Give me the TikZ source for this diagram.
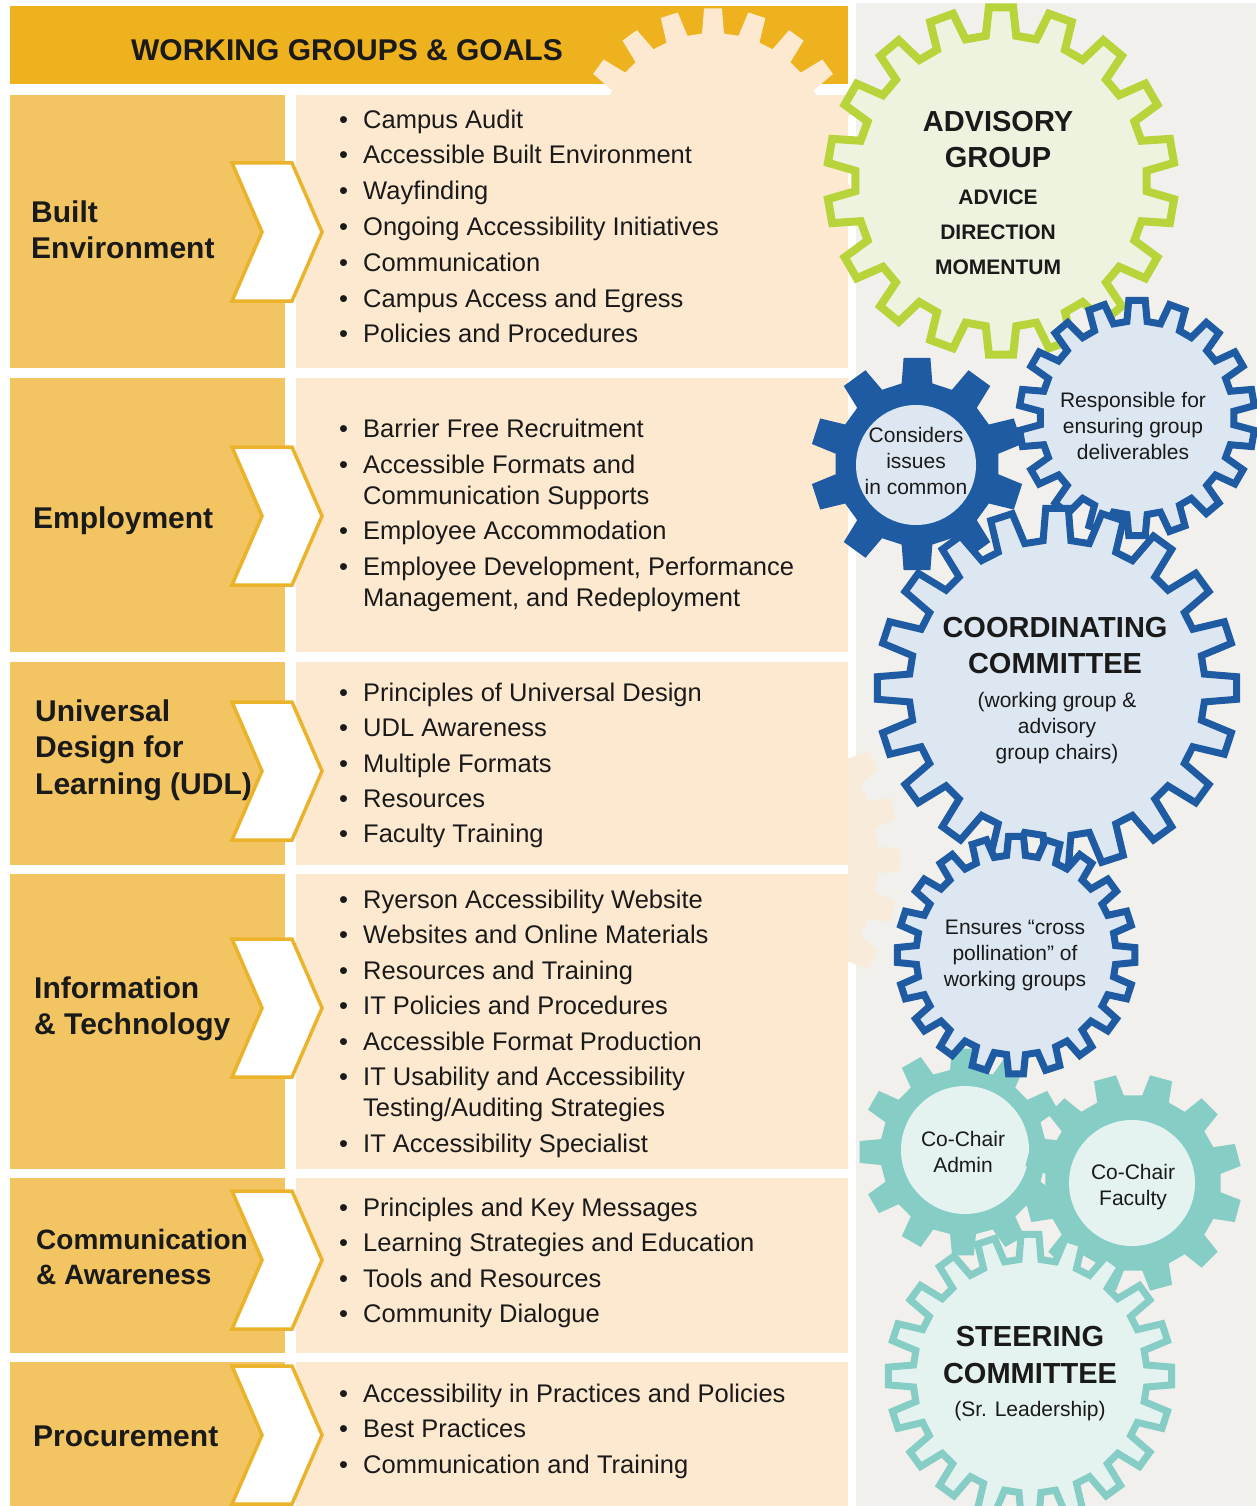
\documentclass[tikz,border=0pt]{standalone}
\usepackage{fontspec}
\setmainfont{Liberation Sans}
\definecolor{ink}{HTML}{1A1A1A}
\definecolor{headgold}{HTML}{EFB21F}
\definecolor{labelgold}{HTML}{F2C462}
\definecolor{peach}{HTML}{FCE9CF}
\definecolor{peachfaint}{HTML}{F8EBD9}
\definecolor{chevgold}{HTML}{EBB32C}
\definecolor{panelgrey}{HTML}{F2F0EC}
\definecolor{lime}{HTML}{B7D43B}
\definecolor{limepale}{HTML}{EEF3DF}
\definecolor{navy}{HTML}{1F5BA2}
\definecolor{navypale}{HTML}{DDE7F1}
\definecolor{aqua}{HTML}{86CDC6}
\definecolor{aquapale}{HTML}{E4F2F0}
\newcommand\goaldot{\makebox[24pt][l]{\textbullet}}
\begin{document}
\begin{tikzpicture}[x=1pt, y=-1pt,
  every node/.style={inner sep=0pt, text=ink},
  head/.style={font=\fontsize{30}{36}\selectfont\bfseries},
  grp/.style={anchor=west, align=left, font=\fontsize{30}{36.5}\selectfont\bfseries},
  goal/.style={anchor=base west, font=\fontsize{25.5}{31}\selectfont},
  chev/.style={fill=white, draw=chevgold, line width=3.5pt},
  big/.style={align=center, font=\fontsize{29}{36}\selectfont\bfseries},
  note/.style={align=center, font=\fontsize{21}{26}\selectfont},
  limering/.style={draw=lime, fill=limepale, line width=8pt},
  navyring/.style={draw=navy, fill=navypale, line width=7pt},
  aquaring/.style={draw=aqua, fill=aquapale, line width=7pt},
  navycog/.style={fill=navy},
  aquacog/.style={fill=aqua},
  pics/gear/.style n args={4}{code={
    \pgfmathsetmacro\halfstep{180/#1}
    \path[pic actions] ({#4-0.6*\halfstep}:#2)
      \foreach \k in {1,...,#1}{
        -- ({#4+(2*\k-2)*\halfstep-0.6*\halfstep}:#2)
        -- ({#4+(2*\k-2)*\halfstep-0.4*\halfstep}:#3)
        -- ({#4+(2*\k-2)*\halfstep+0.4*\halfstep}:#3)
        -- ({#4+(2*\k-2)*\halfstep+0.6*\halfstep}:#2)
      } -- cycle;
  }}]

  \useasboundingbox (0,0) rectangle (1256,1506);
  \fill[white] (0,0) rectangle (1256,1506);
  \fill[panelgrey] (856,3) rectangle (1256,1506);

  % pale cog behind the middle rows, only its teeth show
  \begin{scope}
    \clip (848,0) rectangle (1256,1506);
    \pic[fill=peachfaint] (cogback) at (700,860) {gear={24}{178}{200}{-90}};
  \end{scope}

  \fill[headgold] (10,6) rectangle (848,84);
  \node[head] (title) at (347,50) {WORKING GROUPS \& GOALS};

  \foreach \top/\bot in {95/368, 378/652, 662/865, 874/1169, 1178/1353, 1362/1506} {
    \fill[labelgold] (10,\top) rectangle (285,\bot);
    \fill[peach] (296,\top) rectangle (848,\bot);
  }
  \pic[fill=peach] (cogtop) at (713,150) {gear={20}{117}{142}{-90}};

  \foreach \c in {232, 516, 771, 1008, 1260, 1435}
    \draw[chev] (232,\c-69) -- (292,\c-69) -- (322,\c) -- (292,\c+69) -- (232,\c+69) -- (262,\c) -- cycle;

  \node[grp] (built) at (31,230) {Built\\Environment};
  \node[grp] (employ) at (33,521) {Employment};
  \node[grp] (udl) at (35,750) {Universal\\Design for\\Learning (UDL)};
  \node[grp] (infotech) at (34,1009) {Information\\\& Technology};
  \node[grp, font=\fontsize{28}{35}\selectfont\bfseries] (commaware) at (36,1257) {Communication\\\& Awareness};
  \node[grp] (procure) at (33,1436) {Procurement};

  % goals
  \foreach \y/\t in {129/Campus Audit, 164/Accessible Built Environment, 200/Wayfinding,
      236/Ongoing Accessibility Initiatives, 271/Communication, 307/Campus Access and Egress,
      342/Policies and Procedures,
      437/Barrier Free Recruitment, 473/Accessible Formats and, 539/Employee Accommodation,
      575/{Employee Development, Performance},
      701/Principles of Universal Design, 736/UDL Awareness, 772/Multiple Formats,
      807/Resources, 842/Faculty Training,
      908/Ryerson Accessibility Website, 943/Websites and Online Materials,
      979/Resources and Training, 1014/IT Policies and Procedures,
      1050/Accessible Format Production, 1085/IT Usability and Accessibility,
      1152/IT Accessibility Specialist,
      1216/Principles and Key Messages, 1251/Learning Strategies and Education,
      1287/Tools and Resources, 1322/Community Dialogue,
      1402/Accessibility in Practices and Policies, 1437/Best Practices,
      1473/Communication and Training}
    \node[goal] (goal\y) at (339,\y) {\goaldot\t};
  \node[goal] (goal504) at (363,504) {Communication Supports};
  \node[goal] (goal606) at (363,606) {Management, and Redeployment};
  \node[goal] (goal1116) at (363,1116) {Testing/Auditing Strategies};

  % cogs
  \pic[limering] (advisory) at (1001,181) {gear={18}{146}{174}{-90}};
  \pic[navycog] (common) at (917,464) {gear={10}{82}{107}{-90}};
  \fill[navypale] (916,465) circle[radius=60];
  \pic[navyring] (deliver) at (1137,418) {gear={18}{97}{118}{-90}};
  \pic[navyring] (coord) at (1057,688) {gear={20}{148}{180}{-90}};
  \pic[aquacog] (admin) at (963,1152) {gear={12}{83}{104}{-90}};
  \fill[aquapale] (965,1150) circle[radius=64];
  \pic[aquacog] (faculty) at (1133,1183) {gear={12}{88}{109}{-75}};
  \fill[aquapale] (1132,1183) circle[radius=63];
  \pic[aquaring] (steer) at (1030,1376) {gear={20}{117}{142}{-90}};
  \pic[navyring] (cross) at (1016,955) {gear={20}{100}{119}{-90}};

  \node[big] (advisory-title) at (998,140) {ADVISORY\\GROUP};
  \node[align=center, font=\fontsize{21}{35}\selectfont\bfseries] (advisory-roles) at (998,232) {ADVICE\\DIRECTION\\MOMENTUM};
  \node[note] (common-txt) at (916,461) {Considers\\issues\\in common};
  \node[note] (deliver-txt) at (1133,426) {Responsible for\\ensuring group\\deliverables};
  \node[big] (coord-title) at (1055,646) {COORDINATING\\COMMITTEE};
  \node[note] (coord-sub) at (1057,728) {(working group \&\\advisory\\group chairs)};
  \node[note] (cross-txt) at (1015,955) {Ensures “cross\\pollination” of\\working groups};
  \node[note] (admin-txt) at (963,1152) {Co-Chair\\Admin};
  \node[note] (faculty-txt) at (1133,1187) {Co-Chair\\Faculty};
  \node[big] (steer-title) at (1030,1355) {STEERING\\COMMITTEE};
  \node[note] (steer-sub) at (1030,1411) {(Sr. Leadership)};
\end{tikzpicture}
\end{document}
